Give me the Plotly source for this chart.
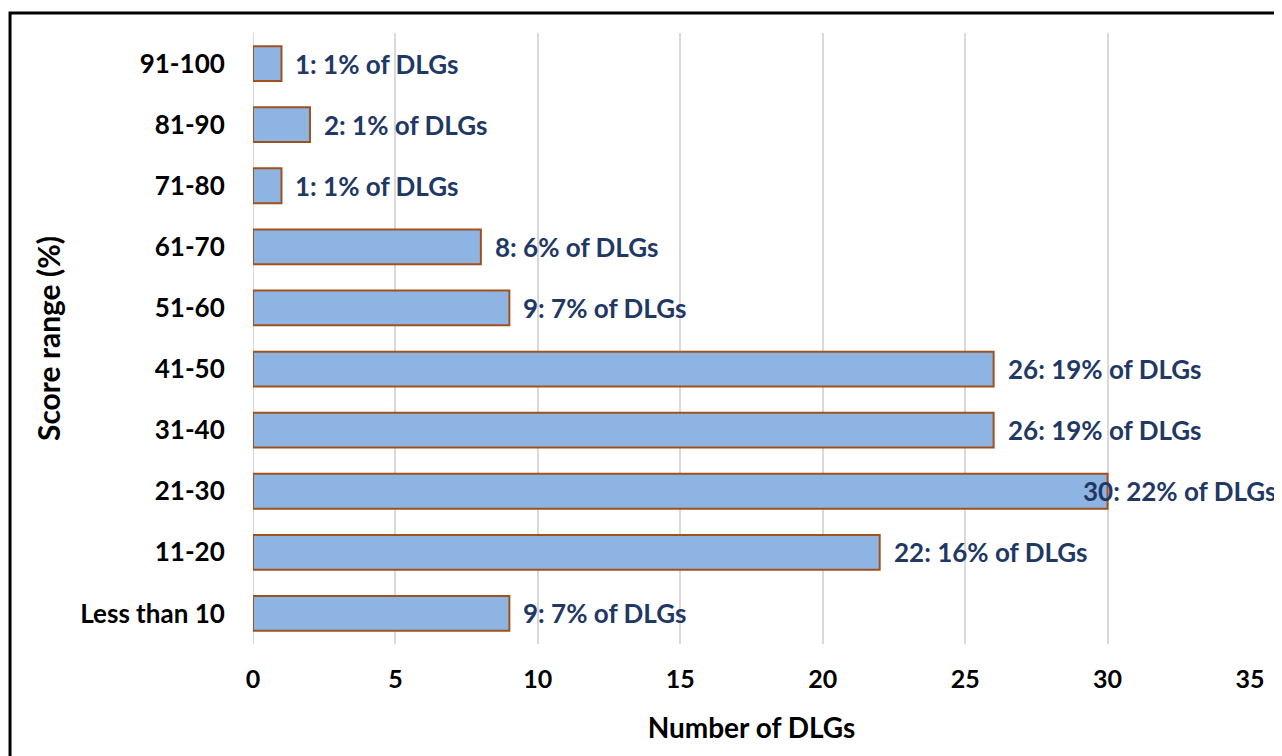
import plotly.graph_objects as go

categories = ["Less than 10", "11-20", "21-30", "31-40", "41-50", "51-60", "61-70", "71-80", "81-90", "91-100"]
counts = [9, 22, 30, 26, 26, 9, 8, 1, 2, 1]
percents = [7, 16, 22, 19, 19, 7, 6, 1, 1, 1]
labels = [f"{c}: {p}% of DLGs" for c, p in zip(counts, percents)]
x_ticks = [0, 5, 10, 15, 20, 25, 30, 35]

FONT = "Lato"
# page body has an 8px margin; figure sized so the plot lands where the reference has it
W, H = 1274, 748

fig = go.Figure(go.Bar(
    y=categories, x=counts, orientation="h",
    marker=dict(color="#8EB4E3", line=dict(color="#A0521E", width=2)),
    cliponaxis=False, hoverinfo="x+y",
))

annotations = []
max_count = max(counts)
for cat, cnt, lab in zip(categories, counts, labels):
    annotations.append(dict(
        x=cnt, y=cat, xref="x", yref="y", text=lab, showarrow=False,
        xanchor="left", yanchor="middle", xshift=(-27 if cnt == max_count else 12),
        font=dict(family=FONT, size=26, color="#1F3864", weight="bold"),
    ))

fig.update_layout(
    width=W, height=H,
    margin=dict(l=245, r=32, t=25, b=112, autoexpand=False),
    paper_bgcolor="white", plot_bgcolor="white",
    bargap=0.43, showlegend=False,
    font=dict(family=FONT, size=26, color="black", weight="bold"),
    xaxis=dict(range=[0, 35], tickvals=x_ticks, showgrid=True, gridcolor="#D9D9D9", gridwidth=2,
               zeroline=False, showline=False, ticks="outside", ticklen=13, tickcolor="rgba(0,0,0,0)",
               automargin=False,
               tickfont=dict(family=FONT, size=25, color="black", weight="bold"),
               title=dict(text="Number of DLGs", font=dict(family=FONT, size=28, color="black", weight="bold"), standoff=26)),
    yaxis=dict(showgrid=False, zeroline=False, showline=False, ticks="outside", ticklen=22,
               tickcolor="rgba(0,0,0,0)", automargin=False,
               tickfont=dict(family=FONT, size=26, color="black", weight="bold"),
               title=dict(text="Score range (%)", font=dict(family=FONT, size=30, color="black", weight="bold"), standoff=10)),
    annotations=annotations,
    shapes=[dict(type="line", xref="x", yref="paper", x0=0, x1=0, y0=0, y1=1, line=dict(color="#D9D9D9", width=2), layer="below"),
            dict(type="rect", xref="paper", yref="paper", x0=-0.2437, x1=1.06, y0=-0.22, y1=1.0327,
                 line=dict(color="black", width=3), fillcolor="rgba(0,0,0,0)")],
)

fig.write_html("out.html")
